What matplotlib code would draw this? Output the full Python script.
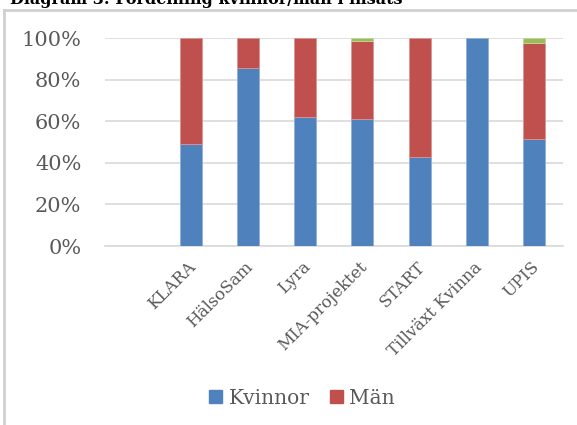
import matplotlib.pyplot as plt
import numpy as np
from matplotlib.lines import Line2D
from matplotlib.patches import Patch

# data (shares, 0..1)
categories = ["", "KLARA", "HälsoSam", "Lyra", "MIA-projektet", "START",
              "Tillväxt Kvinna", "UPIS"]
kvinnor = [0.0, 0.489, 0.854, 0.620, 0.610, 0.428, 1.000, 0.514]
man = [0.0, 0.511, 0.146, 0.380, 0.374, 0.572, 0.000, 0.463]
ovriga = [0.0, 0.0, 0.0, 0.0, 0.016, 0.0, 0.0, 0.023]
y_ticks = [0.0, 0.2, 0.4, 0.6, 0.8, 1.0]

blue = "#4F81BD"
red = "#C0504D"
green = "#9BBB59"
text_color = "#595959"
grid_color = "#D9D9D9"


def main():
    plt.rcParams["font.family"] = ["DejaVu Serif"]

    fig = plt.figure(figsize=(5.77, 4.25), dpi=100)
    ax = fig.add_axes([0.182, 0.421, 0.793, 0.4894])

    x = np.arange(len(categories))
    kv = np.array(kvinnor)
    ma = np.array(man)
    ov = np.array(ovriga)
    width = 0.385

    def lw(vals):
        # no outline on empty segments
        return np.where(vals > 0, 0.6, 0.0)

    ax.bar(x, kv, width, color=blue, edgecolor="#8FAFD6", linewidth=lw(kv), zorder=3)
    ax.bar(x, ma, width, bottom=kv, color=red, edgecolor="#D99594",
           linewidth=lw(ma), zorder=3)
    ax.bar(x, ov, width, bottom=kv + ma, color=green, edgecolor="#C3D69B",
           linewidth=lw(ov), zorder=3)

    ax.set_xlim(-0.5, len(categories) - 0.5)
    ax.set_ylim(0, 1.0)
    ax.set_yticks(y_ticks)
    ax.set_yticklabels([f"{int(round(t * 100))}%" for t in y_ticks],
                       fontsize=15, color=text_color)
    ax.tick_params(axis="y", length=0, pad=17)
    ax.set_xticks(x - 0.06)
    ax.set_xticklabels(categories, rotation=45, ha="right", rotation_mode="anchor",
                       fontsize=12, color=text_color)
    ax.tick_params(axis="x", length=0, pad=9)

    ax.grid(True, axis="y", color=grid_color, linewidth=1.2, zorder=0)
    for side in ["top", "right", "left"]:
        ax.spines[side].set_visible(False)
    ax.spines["bottom"].set_color(grid_color)
    ax.spines["bottom"].set_linewidth(1.2)

    handles = [Patch(color=blue), Patch(color=red)]
    fig.legend(handles, ["Kvinnor", "Män"], loc="center", bbox_to_anchor=(0.523, 0.063),
               ncol=2, frameon=False, fontsize=14.5, labelcolor=text_color,
               handlelength=0.65, handleheight=0.65, handletextpad=0.3,
               columnspacing=1.0)

    # chart frame, cut by the page edge
    w, h = 577.0, 425.0
    fig.add_artist(Line2D([3.5 / w, 3.5 / w], [0, 1 - 10 / h], color="#D0D0D0",
                          linewidth=2.0, transform=fig.transFigure))
    fig.add_artist(Line2D([3.5 / w, 1], [1 - 10 / h, 1 - 10 / h], color="#D0D0D0",
                          linewidth=2.0, transform=fig.transFigure))

    # title, mostly above the visible area (cut off in the reference too)
    fig.text(10 / w, 1 - 4.0 / h, "Diagram 3: Fördelning kvinnor/män i insats",
             fontsize=11.5, fontweight="bold", color="black", va="baseline",
             ha="left")

    fig.savefig("out.png", dpi=100)


if __name__ == "__main__":
    main()
